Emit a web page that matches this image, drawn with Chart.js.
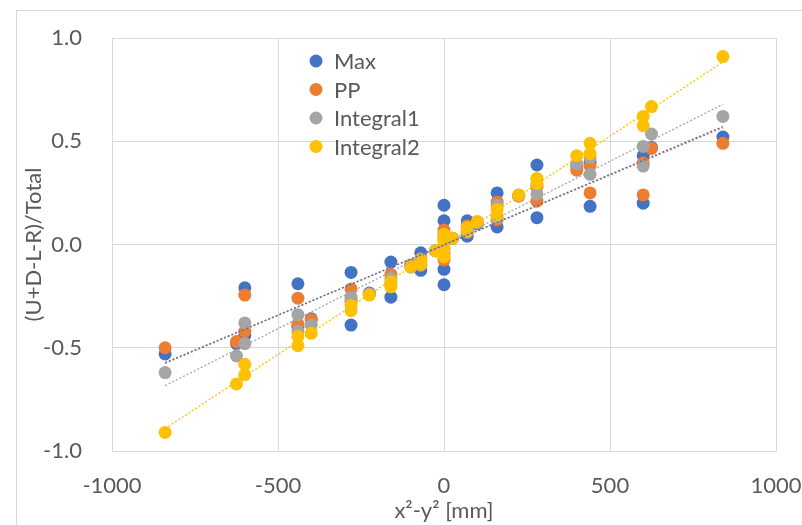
<!DOCTYPE html>
<html>
<head>
<meta charset="utf-8">
<script src="https://cdn.jsdelivr.net/npm/chart.js@4/dist/chart.umd.min.js"></script>
<style>
  html, body { margin: 0; padding: 0; background: #fff; overflow: hidden; }
  #frame { position: absolute; left: 16px; top: 10px; width: 900px; height: 600px; border: 1px solid #d9d9d9; }
  #wrap { position: absolute; left: 0; top: 0; width: 802px; height: 525px; }
</style>
</head>
<body>
<div id="frame"></div>
<div id="wrap"><canvas id="myChart"></canvas></div>
<script>
// x^2 - y^2 of each measurement position [mm]
var xPos = [-840, -625, -600, -600, -440, -440, -400, -280, -280, -225, -160, -160, -100, -70, -70, -25,
  0, 0, 0, 0, 25, 70, 70, 100, 160, 160, 225, 280, 280, 400, 440, 440, 600, 600, 625, 840];

var maxVals = [-0.53, -0.48, -0.21, -0.44, -0.19, -0.40, -0.36, -0.135, -0.39, -0.235, -0.085, -0.255, -0.10, -0.04, -0.125, -0.03,
  0.19, 0.115, -0.12, -0.195, 0.03, 0.115, 0.04, 0.10, 0.25, 0.085, 0.235, 0.385, 0.13, 0.38, 0.40, 0.185, 0.43, 0.20, 0.47, 0.52];
var ppVals = [-0.50, -0.47, -0.245, -0.42, -0.26, -0.385, -0.365, -0.215, -0.27, -0.24, -0.145, -0.19, -0.10, -0.07, -0.10, -0.03,
  0.07, 0.03, -0.04, -0.075, 0.03, 0.09, 0.06, 0.11, 0.205, 0.12, 0.235, 0.21, 0.28, 0.36, 0.38, 0.25, 0.395, 0.24, 0.465, 0.49];
var int1Vals = [-0.62, -0.54, -0.38, -0.48, -0.34, -0.42, -0.39, -0.255, -0.28, -0.24, -0.165, -0.20, -0.11, -0.07, -0.10, -0.03,
  0.05, 0.02, -0.02, -0.05, 0.03, 0.085, 0.06, 0.105, 0.19, 0.13, 0.24, 0.245, 0.29, 0.39, 0.42, 0.34, 0.475, 0.38, 0.535, 0.62];
var int2Vals = [-0.91, -0.675, -0.58, -0.63, -0.445, -0.49, -0.43, -0.295, -0.32, -0.245, -0.18, -0.205, -0.107, -0.075, -0.095, -0.03,
  0.05, 0.02, -0.02, -0.06, 0.03, 0.08, 0.065, 0.11, 0.17, 0.14, 0.24, 0.32, 0.295, 0.43, 0.49, 0.44, 0.62, 0.576, 0.668, 0.91];

var seriesNames = ['Max', 'PP', 'Integral1', 'Integral2'];
var seriesColors = ['#4472C4', '#ED7D31', '#A5A5A5', '#FFC000'];
var seriesVals = [maxVals, ppVals, int1Vals, int2Vals];

var xTicks = [-1000, -500, 0, 500, 1000];
var yTicks = [-1.0, -0.5, 0.0, 0.5, 1.0];

var textColor = '#595959';
var gridColor = '#d9d9d9';

// least squares line over the x range of the data
function linearFit(xs, ys) {
  var n = xs.length, sx = 0, sy = 0, sxx = 0, sxy = 0;
  for (var i = 0; i < n; i++) {
    sx += xs[i]; sy += ys[i]; sxx += xs[i] * xs[i]; sxy += xs[i] * ys[i];
  }
  var slope = (n * sxy - sx * sy) / (n * sxx - sx * sx);
  var icpt = (sy - slope * sx) / n;
  var x0 = Math.min.apply(null, xs), x1 = Math.max.apply(null, xs);
  return [{x: x0, y: icpt + slope * x0}, {x: x1, y: icpt + slope * x1}];
}

var datasets = [];
seriesNames.forEach(function (name, i) {
  datasets.push({
    type: 'scatter',
    label: name,
    data: xPos.map(function (x, k) { return {x: x, y: seriesVals[i][k]}; }),
    backgroundColor: seriesColors[i],
    borderWidth: 0,
    pointRadius: 6.5,
    pointHoverRadius: 6.5,
    order: 10 - i
  });
});
seriesNames.forEach(function (name, i) {
  datasets.push({
    type: 'line',
    label: name + ' trend',
    data: linearFit(xPos, seriesVals[i]),
    borderColor: seriesColors[i],
    borderWidth: 1.3,
    borderDash: [2, 2],
    pointRadius: 0,
    fill: false,
    order: 1
  });
});

// legend drawn inside the plot area
var insideLegend = {
  id: 'insideLegend',
  afterDatasetsDraw: function (chart) {
    var ctx = chart.ctx, a = chart.chartArea;
    ctx.save();
    ctx.font = '22px Lato';
    ctx.textBaseline = 'middle';
    seriesNames.forEach(function (name, i) {
      var y = a.top + 23 + i * 28.5;
      ctx.beginPath();
      ctx.arc(a.left + 204, y, 6.5, 0, 2 * Math.PI);
      ctx.fillStyle = seriesColors[i];
      ctx.fill();
      ctx.fillStyle = textColor;
      ctx.fillText(name, a.left + 222, y + 1);
    });
    ctx.restore();
  }
};

var ctx = document.getElementById('myChart').getContext('2d');

var chart = new Chart(ctx, {
  type: 'scatter',
  data: { datasets: datasets },
  plugins: [insideLegend],
  options: {
    responsive: true,
    maintainAspectRatio: false,
    animation: false,
    layout: { padding: { top: 38, right: 26, left: 0, bottom: 0 } },
    plugins: {
      legend: { display: false },
      tooltip: { enabled: false }
    },
    scales: {
      x: {
        type: 'linear',
        min: -1000,
        max: 1000,
        afterBuildTicks: function (s) { s.ticks = xTicks.map(function (v) { return {value: v}; }); },
        afterFit: function (s) { s.height = 74; s.paddingLeft = 0; s.paddingRight = 0; },
        grid: { color: gridColor, drawTicks: false },
        border: { color: gridColor },
        ticks: {
          color: textColor,
          font: { family: 'Lato', size: 22 },
          padding: 22,
          maxRotation: 0,
          callback: function (v) { return String(v); }
        },
        title: {
          display: true,
          text: 'x²-y² [mm]',
          color: textColor,
          font: { family: 'Lato', size: 22 },
          padding: { top: 0, bottom: 1 }
        }
      },
      y: {
        type: 'linear',
        min: -1,
        max: 1,
        afterBuildTicks: function (s) { s.ticks = yTicks.map(function (v) { return {value: v}; }); },
        afterFit: function (s) { s.width = 112; s.paddingTop = 0; s.paddingBottom = 0; },
        grid: { color: gridColor, drawTicks: false },
        border: { color: gridColor },
        ticks: {
          color: textColor,
          font: { family: 'Lato', size: 22 },
          padding: 30,
          callback: function (v) { return v.toFixed(1); }
        },
        title: {
          display: true,
          text: '(U+D-L-R)/Total',
          color: textColor,
          font: { family: 'Lato', size: 22 },
          padding: { top: 21, bottom: 0 }
        }
      }
    }
  }
});
</script>
</body>
</html>
